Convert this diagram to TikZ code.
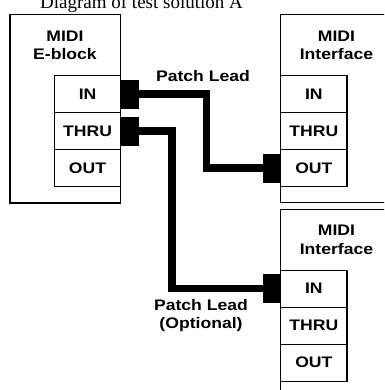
\documentclass[tikz,border=0pt]{standalone}
\usepackage{fontspec}
\setmainfont{Liberation Serif}
\newfontfamily\lblfont[FakeStretch=1.15]{Liberation Sans}
\begin{document}
\begin{tikzpicture}[x=1pt,y=-1pt,
  lbl/.style={font=\lblfont\bfseries\fontsize{15.3}{18.5}\selectfont},
  box/.style={draw, line width=1.2pt, inner sep=0pt, outer sep=0pt, anchor=north west, minimum width=110.7pt},
  portbox/.style={draw, line width=1.2pt, inner sep=0pt, outer sep=0pt, anchor=north west, minimum width=66.3pt, minimum height=37pt, lbl},
  plug/.style={fill=black, inner sep=0pt, outer sep=0pt, minimum width=17.8pt, minimum height=29pt},
  lead/.style={line width=7.5pt},
  txt/.style={lbl, anchor=base, inner sep=0pt, align=center}]
\useasboundingbox (0,0) rectangle (384,390);
\clip (0,0) rectangle (384,390);
% title
\node[anchor=base, inner sep=0pt, font=\fontsize{19}{22}\selectfont] (title) at (141.5,9) {Diagram of test solution A};
% E-block
\node[box, minimum height=188.3pt] (eb) at (10,14.7) {};
\node[txt] (ebt1) at (65,41.3) {MIDI};
\node[txt] (ebt2) at (65,59.8) {E-block};
\node[portbox] (ein) at (54.4,75.7) {IN};
\node[portbox] (ethru) at (54.4,112.7) {THRU};
\node[portbox] (eout) at (54.4,149.7) {OUT};
% Interface 1
\node[box, minimum height=188pt] (ia) at (280.7,14.7) {};
\node[txt] (iat1) at (336.5,41.3) {MIDI};
\node[txt] (iat2) at (336.5,59.8) {Interface};
\node[portbox] (iain) at (280.7,75.7) {IN};
\node[portbox] (iathru) at (280.7,112.7) {THRU};
\node[portbox] (iaout) at (280.7,149.7) {OUT};
% Interface 2
\node[box, minimum height=200pt] (ib) at (280.7,209.2) {};
\node[txt] (ibt1) at (336.5,235.8) {MIDI};
\node[txt] (ibt2) at (336.5,254.3) {Interface};
\node[portbox] (ibin) at (280.7,270.2) {IN};
\node[portbox] (ibthru) at (280.7,307.2) {THRU};
\node[portbox] (ibout) at (280.7,344.2) {OUT};
% plugs
\node[plug, anchor=west] (p1) at (ein.east) {};
\node[plug, anchor=west] (p2) at (ethru.east) {};
\node[plug, anchor=east] (p3) at (iaout.west) {};
\node[plug, anchor=east] (p4) at (ibin.west) {};
% leads
\draw[lead] (p1.east) -- ++(68.2,0) |- (p3.west);
\draw[lead] (p2.east) -- ++(33.5,0) |- (p4.west);
% labels
\node[txt] (l1) at (203,82) {Patch Lead};
\node[txt] (l2a) at (201,310) {Patch Lead};
\node[txt] (l2b) at (201,328.3) {(Optional)};
\end{tikzpicture}
\end{document}
